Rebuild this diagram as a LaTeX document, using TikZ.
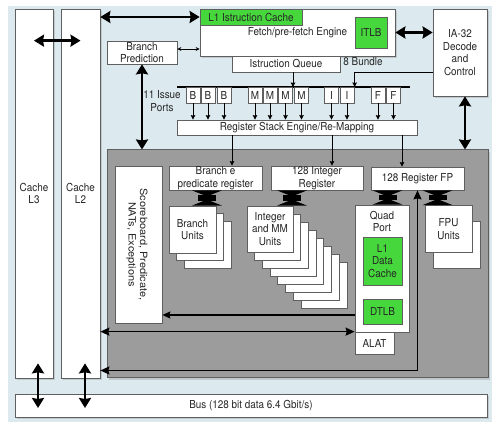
\documentclass[tikz,border=0pt]{standalone}
\usepackage{fontspec}
\setmainfont[FakeStretch=0.9]{TeX Gyre Heros}
\newfontfamily\sidefont[FakeStretch=1.1]{TeX Gyre Heros}
\usetikzlibrary{arrows.meta,shadows}
\definecolor{bgblue}{RGB}{220,233,238}
\definecolor{cpugrey}{RGB}{156,156,156}
\definecolor{cachegreen}{RGB}{70,215,60}
\definecolor{edgegrey}{RGB}{95,95,95}

\begin{document}
\begin{tikzpicture}[x=1pt,y=-1pt,
  every node/.style={font=\fontsize{11}{12.5}\selectfont, text=black!85, align=center},
  box/.style={draw=edgegrey, fill=white, line width=0.7pt, inner sep=0.5pt},
  shbox/.style={box, drop shadow={opacity=0.3, shadow xshift=2pt, shadow yshift=-2pt}},
  greenbox/.style={box, fill=cachegreen},
  port/.style={box, minimum width=14, minimum height=16},
  bigarrow/.style={{Stealth[length=10pt,width=12pt,inset=1pt]}-{Stealth[length=10pt,width=12pt,inset=1pt]}, line width=2.5pt},
  midarrow/.style={{Stealth[length=9pt,width=8pt,inset=1pt]}-{Stealth[length=9pt,width=8pt,inset=1pt]}, line width=1.5pt},
  scorearrow/.style={-{Stealth[length=8pt,width=7pt,inset=1pt]}, line width=1.2pt},
  tinyarrows/.style={{Stealth[length=4pt,width=4pt]}-{Stealth[length=4pt,width=4pt]}, line width=0.8pt},
  thinarrow/.style={-{Stealth[length=4.5pt,width=4.5pt,inset=0.5pt]}, line width=0.8pt},
  fatarrow/.style={{Triangle[reversed,length=6pt,width=30pt]}-{Triangle[reversed,length=6pt,width=30pt]}, line width=18pt}]
  \fill[white] (0,0) rectangle (499,427);
  \useasboundingbox (0,0) rectangle (499,427);
  \fill[bgblue] (8,6) rectangle (492,422);

  \node[shbox, minimum width=38, minimum height=369] (l3) at (34,193.5) {Cache\\L3};
  \node[shbox, minimum width=39, minimum height=369] (l2) at (80.5,193.5) {Cache\\L2};
  \node[shbox, minimum width=195, minimum height=47] (fetch) at (297.5,32.5) {Fetch/pre-fetch Engine};
  \node[greenbox, minimum width=102, minimum height=16] (l1ic) at (251,17) {L1 Istruction Cache};
  \node[greenbox, minimum width=32, minimum height=31] (itlb) at (371,32.5) {ITLB};
  \node[box, minimum width=108, minimum height=16] (queue) at (286,64) {Istruction Queue};
  \node (bundle) at (363,62) {8 Bundle};
  \node[box, minimum width=70, minimum height=23] (bpred) at (142,52.5) {Branch\\Prediction};
  \node[shbox, minimum width=54, minimum height=87] (ia32) at (460,52.5) {IA-32\\Decode\\and\\Control};
  \node (issue) at (162,101) {11 Issue\\Ports};
  \node[box, minimum width=240, minimum height=15] (rse) at (297,127.5) {Register Stack Engine/Re-Mapping};
  \coordinate (busL) at (177,87);
  \coordinate (busR) at (410,87);
  \draw[line width=1.2pt] (busL) -- (busR);
  \foreach \lab/\px [count=\i] in {B/193,B/208,B/224,M/255,M/270,M/285.5,M/301.5,I/331.5,I/347,F/378,F/393.5} {
    \node[port] (p\i) at (\px,95) {\lab};
    \draw[thinarrow] (p\i.south) -- (p\i.south |- rse.north);
  }

  \node[shbox, fill=cpugrey, line width=1pt, minimum width=381, minimum height=228] (core) at (297.5,264) {};
  \node[box, minimum width=47, minimum height=157] (score) at (138.5,244.5) {};
  \node[rotate=-90, font=\sidefont\fontsize{10}{11.5}\selectfont] (scoretext) at (137,244.5) {Scoreboard, Predicate,\\NATs, Exceptions};
  \node[box, minimum width=93, minimum height=24] (breg) at (215.5,178) {Branch e\\predicate register};
  \node[box, minimum width=92, minimum height=24] (ireg) at (317,178) {128 Integer\\Register};
  \node[box, minimum width=93, minimum height=23] (freg) at (417.5,178.5) {128 Register FP};
  \foreach \k in {2,1}
    \node[box, minimum size=47] (bu\k) at (192.5+7.5*\k,229.5+7.5*\k) {};
  \node[box, minimum size=47] (bunits) at (192.5,229.5) {Branch\\Units};
  \foreach \k in {7,...,1}
    \node[box, minimum size=46] (iu\k) at (270+7.7*\k,229+8*\k) {};
  \node[box, minimum size=46] (iunits) at (270,229) {Integer\\and MM\\Units};
  \node[box, minimum size=47] (fu1) at (456.5,245) {};
  \node[box, minimum size=47] (funits) at (448.5,229) {FPU\\Units};
  \node[box, minimum width=54, minimum height=127] (quad) at (382,268.5) {};
  \node[anchor=north] (quadtext) at ([yshift=-3]quad.north) {Quad\\Port};
  \node[box, minimum width=39, minimum height=22] (alat) at (374.5,343) {ALAT};
  \node[greenbox, minimum width=39, minimum height=48] (l1dc) at (382.5,261) {L1\\Data\\Cache};
  \node[greenbox, minimum width=39, minimum height=25] (dtlb) at (382.5,311.5) {DTLB};
  \node[shbox, minimum width=472, minimum height=23] (bus) at (251,405.5) {Bus (128 bit data 6.4 Gbit/s)};

  \draw[bigarrow] ([yshift=-32]l3.north) -- ([yshift=-32]l2.north);
  \draw[bigarrow] (l2.east |- l1ic.west) -- (l1ic.west);
  \draw[bigarrow] (fetch.east |- itlb.east) -- (ia32.west |- itlb.east);
  \coordinate (bp) at ([yshift=3.5]bpred.east);
  \draw[tinyarrows] (bp) -- (bp -| fetch.west);
  \draw[bigarrow] (bpred.south) -- (bpred.south |- core.north);
  \coordinate (iadown) at ([xshift=5]ia32.south);
  \draw[bigarrow] (iadown) -- (iadown |- core.north);
  \draw[thinarrow] (ia32.west |- queue.south) -| (itlb.west |- busL);
  \coordinate (qdown) at ([xshift=7]queue.south);
  \draw[thinarrow] (qdown) -- (qdown |- busL);
  \foreach \r/\dx in {breg/16.5,ireg/15,freg/-15.5} {
    \coordinate (\r-in) at ([xshift=\dx]\r.north);
    \draw[thinarrow] (\r-in |- rse.south) -- (\r-in);
  }
  \foreach \r/\dx/\u in {breg/-8.5/bunits,ireg/-25/iunits,freg/-30/quad,freg/20/funits} {
    \coordinate (fa) at ([xshift=\dx]\r.south);
    \draw[fatarrow] (fa) -- (fa |- \u.north);
  }
  \coordinate (sb) at ([yshift=-3.5]dtlb.west);
  \draw[scorearrow] (sb -| quad.west) -- (sb -| score.east);
  \draw[midarrow] (l2.east |- alat.north) -- (alat.north west);
  \coordinate (loop) at ([yshift=8]core.south);
  \draw[midarrow] (l2.east |- loop) -- (freg.south |- loop) -- (freg.south);
  \coordinate (busin) at ([yshift=-2.5]bus.center);
  \coordinate (l3b) at ([xshift=4,yshift=15]l3.south);
  \coordinate (l2b) at ([xshift=4.5,yshift=15]l2.south);
  \draw[bigarrow] (l3b) -- (l3b |- busin);
  \draw[bigarrow] (l2b) -- (l2b |- busin);
\end{tikzpicture}
\end{document}
